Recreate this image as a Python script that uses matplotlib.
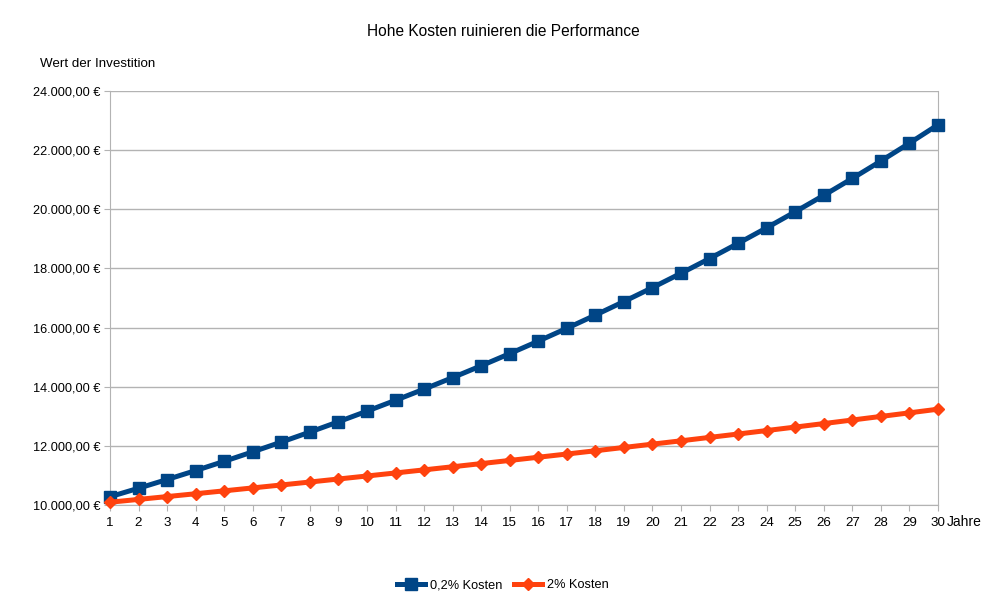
import matplotlib.pyplot as plt
import numpy as np

plt.rcParams['font.family'] = ['Liberation Sans', 'DejaVu Sans']

# Jahre und Werte der Investition
years = list(range(1, 31))
low_cost = [10279, 10567, 10862, 11165, 11477, 11798, 12128, 12466, 12815, 13173,
            13541, 13919, 14308, 14708, 15119, 15541, 15975, 16422, 16881, 17352,
            17837, 18335, 18848, 19374, 19916, 20472, 21044, 21632, 22236, 22858]
high_cost = [10094, 10189, 10285, 10381, 10479, 10578, 10677, 10777, 10879, 10981,
             11084, 11188, 11293, 11400, 11507, 11615, 11724, 11834, 11946, 12058,
             12171, 12286, 12401, 12518, 12635, 12754, 12874, 12995, 13117, 13240]
series_labels = ['0,2% Kosten', '2% Kosten']
y_ticks = list(range(10000, 24001, 2000))


def euro(v):
    s = f"{v:,.2f}".replace(',', 'X').replace('.', ',').replace('X', '.')
    return s + ' €'


fig = plt.figure(figsize=(10.06, 6.04), dpi=100)
ax = fig.add_axes([110 / 1006, 1 - 505 / 604, 828 / 1006, 414 / 604])

grid_c = '#b3b3b3'
blue = '#004586'
orange = '#ff420e'

ax.plot(years, low_cost, color=blue, lw=3.6, marker='s', ms=8.5,
        label=series_labels[0], clip_on=False, zorder=3)
ax.plot(years, high_cost, color=orange, lw=3.6, marker='D', ms=6.5,
        label=series_labels[1], clip_on=False, zorder=3)

ax.set_xlim(1, 30)
ax.set_ylim(10000, 24000)
ax.set_xticks(years)
ax.set_yticks(y_ticks)
ax.set_yticklabels([euro(v) for v in y_ticks])
ax.grid(axis='y', color=grid_c, lw=1)
ax.set_axisbelow(True)

for side in ['left', 'bottom', 'right']:
    ax.spines[side].set_color(grid_c)
ax.spines['top'].set_visible(False)
ax.tick_params(colors=grid_c, labelcolor='black', labelsize=9.2, length=4)
ax.tick_params(axis='y', pad=3)
ax.tick_params(axis='x', pad=5, labelsize=9.6)

fig.text(0.5, 1 - 31 / 604, 'Hohe Kosten ruinieren die Performance',
         ha='center', va='center', fontsize=11.2)
fig.text(40 / 1006, 1 - 64 / 604, 'Wert der Investition',
         ha='left', va='center', fontsize=9.6)
fig.text(947 / 1006, 1 - 522 / 604, 'Jahre', ha='left', va='center', fontsize=10)

fig.legend(loc='center', bbox_to_anchor=(0.5, 1 - 585 / 604), ncol=2,
           frameon=False, fontsize=9.2, handlelength=2.2, columnspacing=0.9,
           handletextpad=0.4)

fig.savefig('out.png', dpi=100)
